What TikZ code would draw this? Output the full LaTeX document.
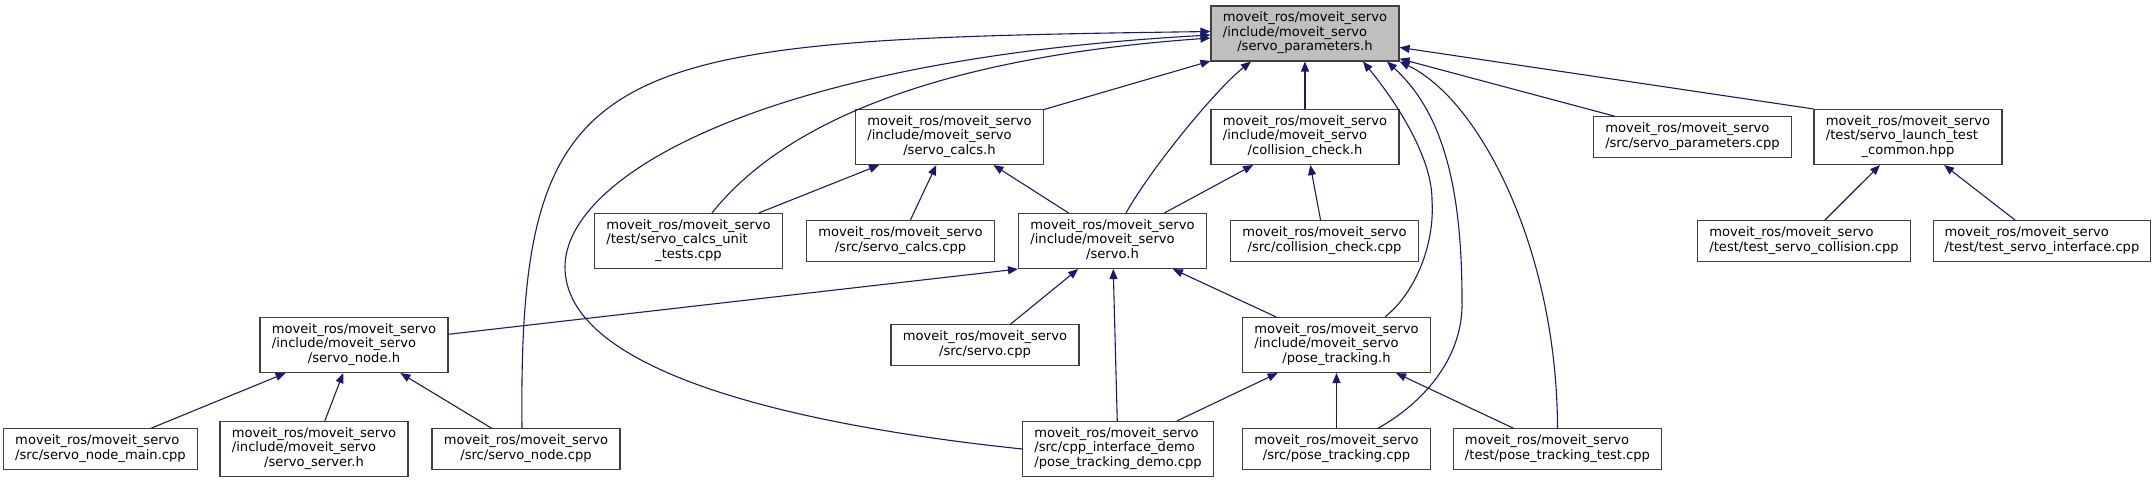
\documentclass[tikz,border=0pt]{standalone}
\usepackage{fontspec}
\setmainfont{DejaVu Sans}
\usetikzlibrary{arrows.meta}
\definecolor{edgeblue}{RGB}{25,25,112}
\definecolor{boxline}{RGB}{64,64,64}
\definecolor{rootfill}{RGB}{191,191,191}
\newcommand{\fpath}[2]{\begin{tabular}{@{}l@{}}#1\\\multicolumn{1}{@{}c@{}}{#2}\end{tabular}}

\begin{document}
\begin{tikzpicture}[
  x=1pt, y=-1pt,
  >={Triangle[length=10pt, width=8pt]},
  every node/.style={font=\fontsize{13.1}{14.5}\selectfont},
  file/.style     = {draw=boxline, line width=1.1pt, fill=white, inner xsep=11.5pt, inner ysep=5.75pt, minimum width=188pt},
  rootfile/.style = {file, fill=rootfill},
  dep/.style      = {->, edgeblue, line width=1.1pt},
]
  \useasboundingbox (0,0) rectangle (2155,483);
  \node[rootfile] (root)      at (1305,33.5) {\fpath{moveit\_ros/moveit\_servo\\/include/moveit\_servo}{/servo\_parameters.h}};
  \node[file]     (calcsh)    at (949.5,137) {\fpath{moveit\_ros/moveit\_servo\\/include/moveit\_servo}{/servo\_calcs.h}};
  \node[file]     (collh)     at (1305,137)  {\fpath{moveit\_ros/moveit\_servo\\/include/moveit\_servo}{/collision\_check.h}};
  \node[file]     (paramscpp) at (1692.5,137) {\fpath{moveit\_ros/moveit\_servo}{/src/servo\_parameters.cpp}};
  \node[file]     (launchhpp) at (1908,137)  {\fpath{moveit\_ros/moveit\_servo\\/test/servo\_launch\_test}{\_common.hpp}};
  \node[file]     (unittests) at (688.5,241) {\fpath{moveit\_ros/moveit\_servo\\/test/servo\_calcs\_unit}{\_tests.cpp}};
  \node[file]     (calcscpp)  at (900.5,241) {\fpath{moveit\_ros/moveit\_servo}{/src/servo\_calcs.cpp}};
  \node[file]     (servoh)    at (1112.5,241) {\fpath{moveit\_ros/moveit\_servo\\/include/moveit\_servo}{/servo.h}};
  \node[file]     (collcpp)   at (1324.5,241) {\fpath{moveit\_ros/moveit\_servo}{/src/collision\_check.cpp}};
  \node[file]     (testcoll)  at (1804,241)  {\fpath{moveit\_ros/moveit\_servo}{/test/test\_servo\_collision.cpp}};
  \node[file]     (testiface) at (2042,241)  {\fpath{moveit\_ros/moveit\_servo}{/test/test\_servo\_interface.cpp}};
  \node[file]     (nodeh)     at (354,345)   {\fpath{moveit\_ros/moveit\_servo\\/include/moveit\_servo}{/servo\_node.h}};
  \node[file]     (servocpp)  at (985,345)   {\fpath{moveit\_ros/moveit\_servo}{/src/servo.cpp}};
  \node[file]     (poseh)     at (1336.5,345) {\fpath{moveit\_ros/moveit\_servo\\/include/moveit\_servo}{/pose\_tracking.h}};
  \node[file]     (nodemain)  at (100.5,449) {\fpath{moveit\_ros/moveit\_servo}{/src/servo\_node\_main.cpp}};
  \node[file]     (serverh)   at (314,449)   {\fpath{moveit\_ros/moveit\_servo\\/include/moveit\_servo}{/servo\_server.h}};
  \node[file]     (nodecpp)   at (526,449)   {\fpath{moveit\_ros/moveit\_servo}{/src/servo\_node.cpp}};
  \node[file]     (democpp)   at (1118,449)  {\fpath{moveit\_ros/moveit\_servo\\/src/cpp\_interface\_demo}{/pose\_tracking\_demo.cpp}};
  \node[file]     (posecpp)   at (1336.5,449) {\fpath{moveit\_ros/moveit\_servo}{/src/pose\_tracking.cpp}};
  \node[file]     (posetest)  at (1557.5,449) {\fpath{moveit\_ros/moveit\_servo}{/test/pose\_tracking\_test.cpp}};
  \foreach \a/\b in {calcsh/root, collh/root, paramscpp/root, unittests/calcsh, calcscpp/calcsh,
                     servoh/calcsh, servoh/collh, collcpp/collh, testcoll/launchhpp, testiface/launchhpp,
                     servocpp/servoh, democpp/servoh, poseh/servoh, democpp/poseh, posecpp/poseh,
                     posetest/poseh, nodemain/nodeh, serverh/nodeh, nodecpp/nodeh}
     \draw[dep] (\a) -- (\b);
  \draw[dep] (launchhpp.north west) -- (root);
  \draw[dep] (nodeh) -- (servoh.south west);
  \draw[dep] ([xshift=-4pt]nodecpp.north) .. controls (518,50) and (600,40) .. ([yshift=2pt]root.west);
  \draw[dep] (democpp.west) .. controls (774,423) and (565,367) .. (565,267)
             .. controls (565,177) and (760,60) .. ([yshift=-1.5pt]root.west);
  \draw[dep] ([xshift=23.5pt]unittests.north) .. controls (770,140) and (900,60) .. ([yshift=-4.5pt]root.west);
  \draw[dep] ([xshift=13.5pt]servoh.north) .. controls (1150,170) and (1215,90) .. ([xshift=-54pt]root.south);
  \draw[dep] ([xshift=48.5pt]poseh.north) .. controls (1415,293) and (1435,245) .. (1432,200)
             .. controls (1432,155) and (1393,98) .. ([xshift=58pt]root.south);
  \draw[dep] ([xshift=41.5pt]posecpp.north) .. controls (1420,405) and (1464,360) .. (1462,300)
             .. controls (1462,180) and (1440,110) .. ([xshift=82pt]root.south);
  \draw[dep] (posetest.north) .. controls (1557,250) and (1480,100) .. (root.south east);
\end{tikzpicture}
\end{document}
